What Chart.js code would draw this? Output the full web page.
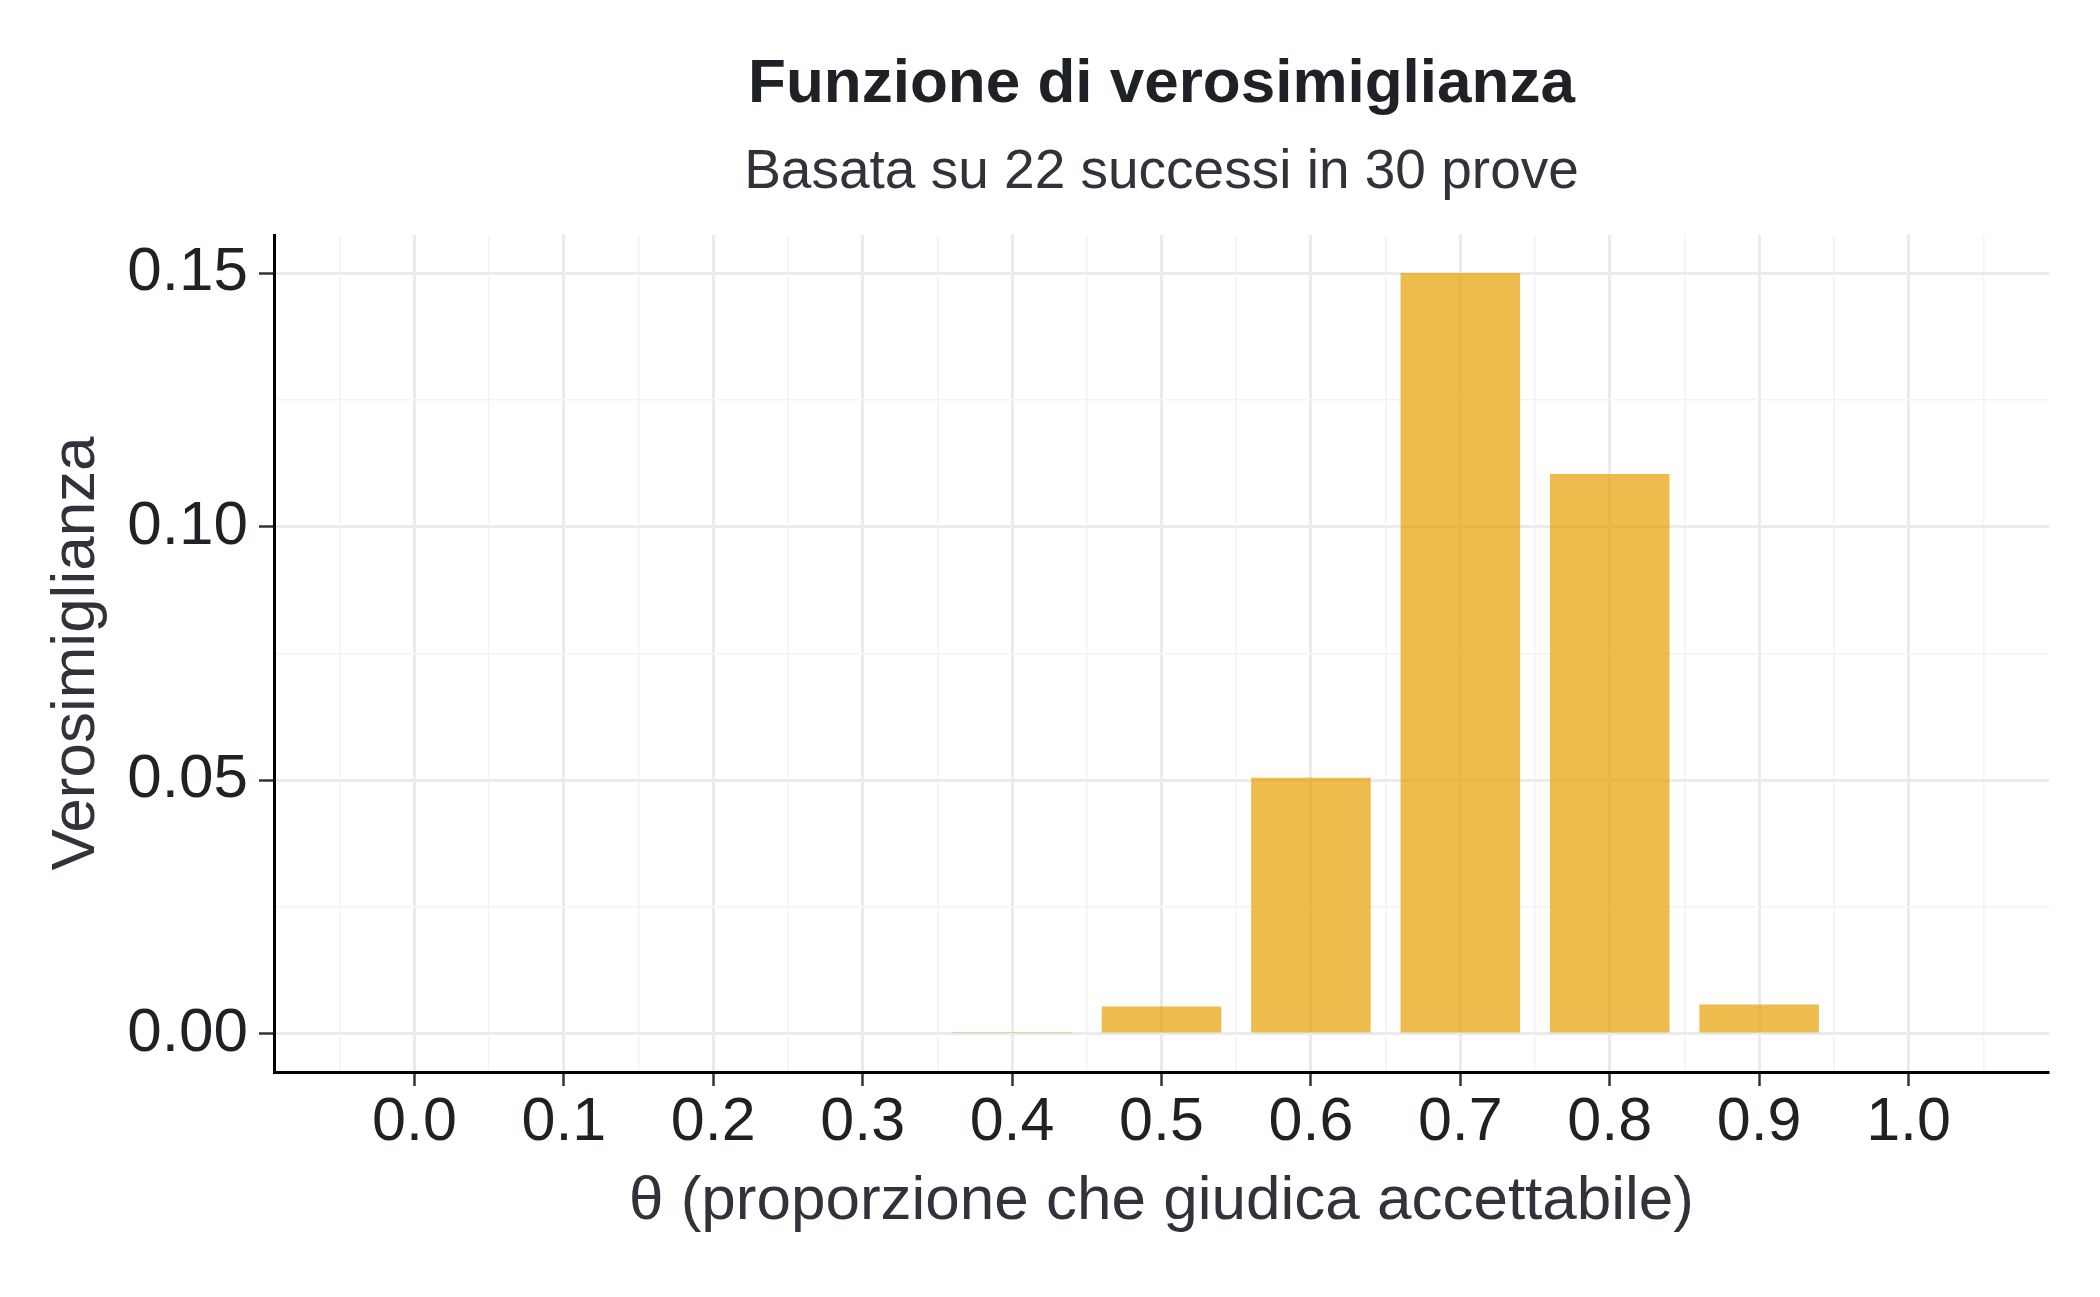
<!DOCTYPE html>
<html>
<head>
<meta charset="utf-8">
<script src="https://cdn.jsdelivr.net/npm/chart.js@4.4.1/dist/chart.umd.min.js"></script>
<style>
  body { margin: 0; background: #fff; }
</style>
</head>
<body>
<canvas id="myChart" width="2100" height="1297"></canvas>
<script>
// valori
const theta = [0.0, 0.1, 0.2, 0.3, 0.4, 0.5, 0.6, 0.7, 0.8, 0.9, 1.0];
const likelihood = [0, 0, 0, 0, 0.00017, 0.0054, 0.0505, 0.150, 0.1104, 0.0058, 0];

const FONT = "'Liberation Sans', Arial, Helvetica, sans-serif";

function isMajor(v, step) {
    const r = v / step;
    return Math.abs(r - Math.round(r)) < 1e-6;
}

function loadChart() {
    const ctx = document.getElementById('myChart');
    new Chart(ctx, {
        type: 'bar',
        data: {
            datasets: [{
                data: theta.map((t, i) => ({x: t, y: likelihood[i]})),
                backgroundColor: 'rgba(230, 159, 0, 0.7)',
                borderWidth: 0,
                // the ruler uses the 0.05 tick spacing, bars are 0.08 wide
                categoryPercentage: 1,
                barPercentage: 1.6,
            }]
        },
        options: {
            responsive: false,
            animation: false,
            devicePixelRatio: 1,
            layout: {
                padding: {left: 0, right: 51, top: 0, bottom: 0}
            },
            scales: {
                x: {
                    type: 'linear',
                    offset: false,
                    min: -0.094,
                    max: 1.094,
                    afterFit: s => { s.height = 225; },
                    border: {display: true, color: '#000', width: 3},
                    grid: {
                        offset: false,
                        color: c => isMajor(c.tick.value, 0.1) ? '#EBEBEB' : '#F3F3F3',
                        lineWidth: c => isMajor(c.tick.value, 0.1) ? 3 : 1.5,
                        tickColor: c => isMajor(c.tick.value, 0.1) ? '#333' : 'rgba(0,0,0,0)',
                        tickWidth: 2.5,
                        tickLength: 14,
                    },
                    ticks: {
                        stepSize: 0.05,
                        includeBounds: false,
                        maxTicksLimit: 100,
                        autoSkip: false,
                        maxRotation: 0,
                        padding: 1,
                        color: '#1e2126',
                        font: {family: FONT, size: 61, lineHeight: 1.2},
                        callback: v => isMajor(v, 0.1) ? v.toFixed(1) : '',
                    },
                    title: {
                        display: true,
                        text: 'θ (proporzione che giudica accettabile)',
                        color: '#30333a',
                        font: {family: FONT, size: 62, lineHeight: 1.2},
                        padding: {top: 0, bottom: 58},
                    }
                },
                y: {
                    min: -0.0075,
                    max: 0.1575,
                    afterFit: s => { s.width = 274; },
                    border: {display: true, color: '#000', width: 3},
                    grid: {
                        color: c => isMajor(c.tick.value, 0.05) ? '#EBEBEB' : '#F3F3F3',
                        lineWidth: c => isMajor(c.tick.value, 0.05) ? 3 : 1.5,
                        tickColor: c => isMajor(c.tick.value, 0.05) ? '#333' : 'rgba(0,0,0,0)',
                        tickWidth: 2.5,
                        tickLength: 15,
                    },
                    ticks: {
                        stepSize: 0.025,
                        includeBounds: false,
                        maxTicksLimit: 100,
                        padding: 11,
                        color: '#1e2126',
                        font: {family: FONT, size: 62, lineHeight: 1.2},
                        callback: v => isMajor(v, 0.05) ? v.toFixed(2) : '',
                    },
                    title: {
                        display: true,
                        text: 'Verosimiglianza',
                        color: '#30333a',
                        font: {family: FONT, size: 62, lineHeight: 1.2},
                        padding: {top: 40, bottom: 0},
                    }
                }
            },
            plugins: {
                title: {
                    display: true,
                    fullSize: false,
                    text: 'Funzione di verosimiglianza',
                    color: '#1e2126',
                    font: {family: FONT, size: 62, weight: 'bold', lineHeight: 1.2},
                    padding: {top: 48, bottom: 0},
                },
                subtitle: {
                    display: true,
                    fullSize: false,
                    text: 'Basata su 22 successi in 30 prove',
                    color: '#30333a',
                    font: {family: FONT, size: 55, lineHeight: 1.2},
                    padding: {top: 17.6, bottom: 29},
                },
                legend: {
                    display: false
                },
                tooltip: {
                    enabled: false
                }
            }
        }
    });
}

loadChart();
</script>
</body>
</html>
